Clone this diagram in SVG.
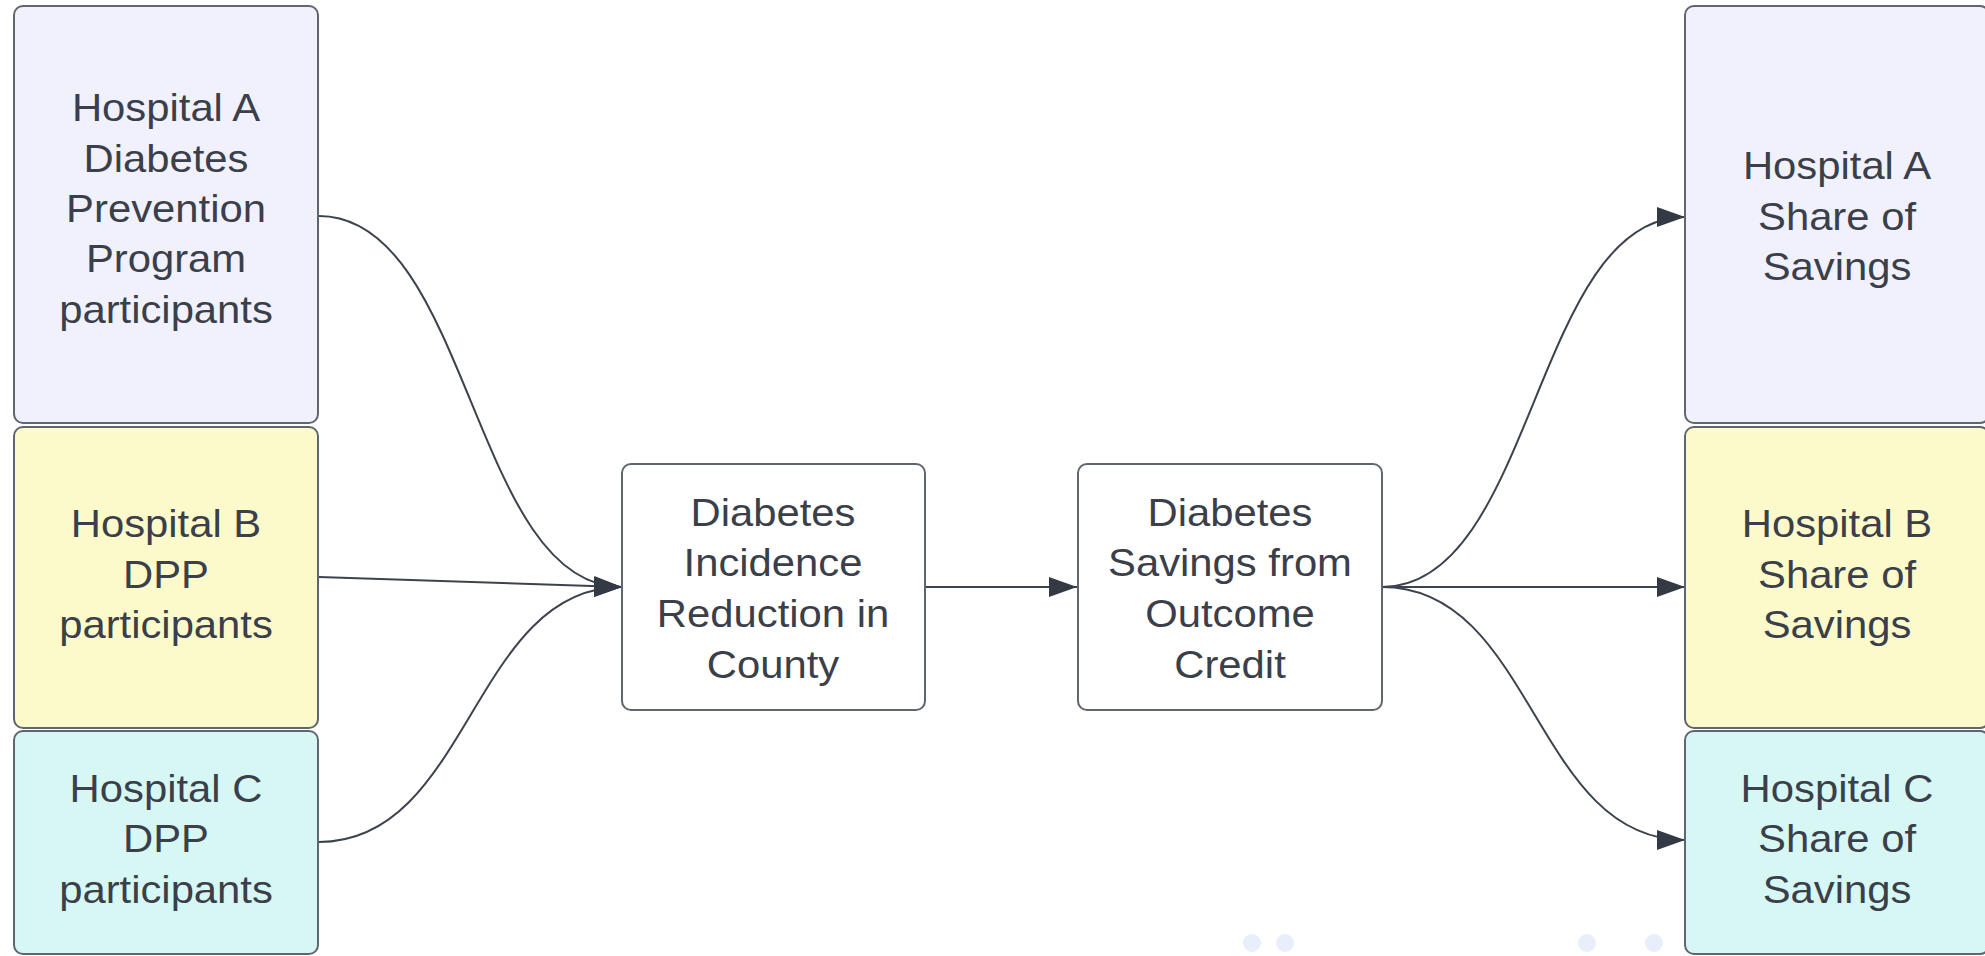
<svg xmlns="http://www.w3.org/2000/svg" width="1985" height="956" viewBox="0 0 1985 956">
<defs>
<style>
.box{stroke:#5f6670;stroke-width:2}
.a{fill:#f0f1fd}.b{fill:#fcfacb}.c{fill:#d6f7f3}.w{fill:#ffffff}
.t{font-family:"Liberation Sans",Arial,sans-serif;font-size:38px;fill:#3a3f4a;text-anchor:middle}
.con{fill:none;stroke:#3d434c;stroke-width:2}
.dot{fill:#e8eefa}
</style>
<marker id="arr" markerUnits="userSpaceOnUse" markerWidth="28" markerHeight="20" refX="28" refY="10" orient="auto">
<path d="M0,0 L28,10 L0,20 z" fill="#333a44"/>
</marker>
</defs>
<rect width="1985" height="956" fill="#ffffff"/>
<g id="connectors">
<path class="con" marker-end="url(#arr)" d="M319,216 C470,216 472,587 622,587"/>
<path class="con" marker-end="url(#arr)" d="M319,577 L622,587"/>
<path class="con" marker-end="url(#arr)" d="M319,842 C470,842 472,587 622,587"/>
<path class="con" marker-end="url(#arr)" d="M925,587 L1077,587"/>
<path class="con" marker-end="url(#arr)" d="M1382,587 C1534,587 1534,217 1685,217"/>
<path class="con" marker-end="url(#arr)" d="M1382,587 L1685,587"/>
<path class="con" marker-end="url(#arr)" d="M1382,587 C1534,587 1534,840 1685,840"/>
</g>
<g id="left-a">
<rect class="box a" x="14" y="6" width="304" height="417" rx="9"/>
<g class="t" transform="translate(166 0) scale(1.1 1)">
<text y="121">Hospital A</text><text y="172">Diabetes</text><text y="222">Prevention</text><text y="272">Program</text><text y="323">participants</text>
</g>
</g>
<g id="left-b">
<rect class="box b" x="14" y="427" width="304" height="301" rx="9"/>
<g class="t" transform="translate(166 0) scale(1.1 1)">
<text y="537">Hospital B</text><text y="588">DPP</text><text y="638">participants</text>
</g>
</g>
<g id="left-c">
<rect class="box c" x="14" y="731" width="304" height="223" rx="9"/>
<g class="t" transform="translate(166 0) scale(1.1 1)">
<text y="802">Hospital C</text><text y="852">DPP</text><text y="903">participants</text>
</g>
</g>
<g id="mid-reduction">
<rect class="box w" x="622" y="464" width="303" height="246" rx="9"/>
<g class="t" transform="translate(773 0) scale(1.1 1)">
<text y="526">Diabetes</text><text y="576">Incidence</text><text y="627">Reduction in</text><text y="678">County</text>
</g>
</g>
<g id="mid-savings">
<rect class="box w" x="1078" y="464" width="304" height="246" rx="9"/>
<g class="t" transform="translate(1230 0) scale(1.1 1)">
<text y="526">Diabetes</text><text y="576">Savings from</text><text y="627">Outcome</text><text y="678">Credit</text>
</g>
</g>
<g id="right-a">
<rect class="box a" x="1685" y="6" width="304" height="417" rx="9"/>
<g class="t" transform="translate(1837 0) scale(1.1 1)">
<text y="179">Hospital A</text><text y="230">Share of</text><text y="280">Savings</text>
</g>
</g>
<g id="right-b">
<rect class="box b" x="1685" y="427" width="304" height="301" rx="9"/>
<g class="t" transform="translate(1837 0) scale(1.1 1)">
<text y="537">Hospital B</text><text y="588">Share of</text><text y="638">Savings</text>
</g>
</g>
<g id="right-c">
<rect class="box c" x="1685" y="731" width="304" height="223" rx="9"/>
<g class="t" transform="translate(1837 0) scale(1.1 1)">
<text y="802">Hospital C</text><text y="852">Share of</text><text y="903">Savings</text>
</g>
</g>
<g id="dots">
<circle class="dot" cx="1252" cy="943" r="9"/>
<circle class="dot" cx="1285" cy="943" r="9"/>
<circle class="dot" cx="1587" cy="943" r="9"/>
<circle class="dot" cx="1654" cy="943" r="9"/>
</g>
</svg>
